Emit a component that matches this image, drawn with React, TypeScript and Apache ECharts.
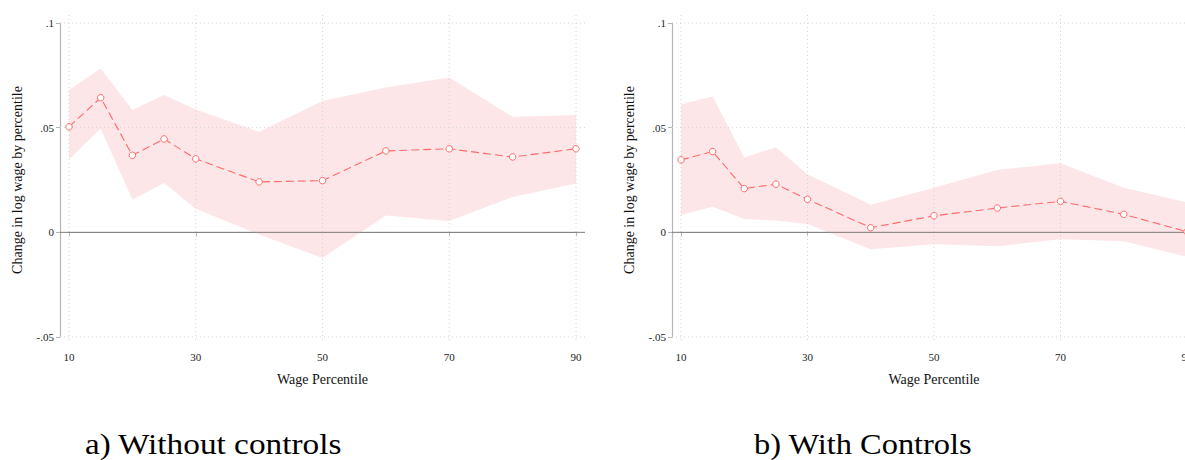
import React, { useEffect, useRef } from "react";
import * as echarts from "echarts";

const percentiles = [10, 15, 20, 25, 30, 40, 50, 60, 70, 80, 90];

const meanA = [0.0504, 0.0643, 0.0368, 0.0446, 0.0351, 0.0241, 0.0247, 0.0389, 0.0399, 0.036, 0.0399];
const upperA = [0.068, 0.0783, 0.0584, 0.0656, 0.0587, 0.048, 0.0627, 0.0692, 0.074, 0.0552, 0.056];
const lowerA = [0.0348, 0.0496, 0.0156, 0.0236, 0.0113, -0.001, -0.0123, 0.0081, 0.0054, 0.0169, 0.0233];

const meanB = [0.0346, 0.0386, 0.0209, 0.023, 0.0158, 0.0022, 0.0079, 0.0116, 0.0148, 0.0086, 0.0003];
const upperB = [0.0612, 0.0649, 0.0357, 0.0407, 0.0278, 0.0132, 0.0213, 0.0298, 0.033, 0.0213, 0.0143];
const lowerB = [0.0083, 0.0122, 0.0064, 0.0056, 0.004, -0.0081, -0.0057, -0.0066, -0.0033, -0.0043, -0.0117];

const xTicks = [10, 30, 50, 70, 90];
const yTicks = [-0.05, 0, 0.05, 0.1];

const captionA = ["a)", "Without controls"];
const captionB = "b) With Controls";
const xTitle = "Wage Percentile";
const yTitle = "Change in log wage by percentile";

const SERIF = "Liberation Serif";
const LINE_RED = "#ff6b6b";
const BAND = "#fde6e8";
const AXIS_GRAY = "#b5b5b5";
const GRID_GRAY = "#d4d4d4";

function fmtY(v: number) {
  const r = Math.round(v * 1000) / 1000;
  if (r === 0) return "0";
  return String(r).replace("0.", ".");
}

function panel(gi: number, mean: number[], lower: number[], upper: number[]) {
  const xAxis = {
    type: "value",
    gridIndex: gi,
    min: 10,
    max: 90,
    interval: 20,
    offset: 8,
    axisLine: { show: true, lineStyle: { color: AXIS_GRAY, width: 1.2 } },
    axisTick: { show: true, length: 4, lineStyle: { color: AXIS_GRAY } },
    axisLabel: { fontFamily: SERIF, fontSize: 11, color: "#222", margin: 6, hideOverlap: false },
    splitLine: { show: false },
    name: xTitle,
    nameLocation: "middle",
    nameGap: 27,
    nameTextStyle: { fontFamily: SERIF, fontSize: 14, color: "#111" },
  };
  const yAxis = {
    type: "value",
    gridIndex: gi,
    min: -0.05,
    max: 0.1,
    interval: 0.05,
    offset: 9,
    axisLine: { show: true, lineStyle: { color: AXIS_GRAY, width: 1.2 } },
    axisTick: { show: true, length: 4, lineStyle: { color: AXIS_GRAY } },
    axisLabel: { fontFamily: SERIF, fontSize: 11, color: "#222", margin: 6, formatter: fmtY },
    splitLine: { show: false },
    name: yTitle,
    nameLocation: "middle",
    nameGap: 36,
    nameRotate: 90,
    nameTextStyle: { fontFamily: SERIF, fontSize: 14, color: "#111" },
  };
  const series: any[] = [
    {
      type: "custom",
      xAxisIndex: gi,
      yAxisIndex: gi,
      clip: false,
      silent: true,
      z: 1,
      data: percentiles.map((x, i) => [x, lower[i], upper[i]]),
      encode: { x: 0, y: [1, 2] },
      renderItem: (params: any, api: any) => {
        if (params.dataIndexInside !== 0) return null;
        const n = params.dataInsideLength;
        const top: number[][] = [];
        const bottom: number[][] = [];
        for (let i = 0; i < n; i++) {
          const x = api.value(0, i);
          top.push(api.coord([x, api.value(2, i)]));
          bottom.unshift(api.coord([x, api.value(1, i)]));
        }
        return {
          type: "polygon",
          shape: { points: top.concat(bottom) },
          style: { fill: BAND, stroke: "none" },
        };
      },
    },
    {
      type: "custom",
      xAxisIndex: gi,
      yAxisIndex: gi,
      clip: false,
      silent: true,
      z: 2,
      data: xTicks.map((x) => [x, 0]),
      encode: { x: 0, y: 1 },
      renderItem: (params: any, api: any) => {
        const x = api.value(0);
        const p1 = api.coord([x, 0.1]);
        const p2 = api.coord([x, -0.05]);
        return {
          type: "line",
          shape: { x1: p1[0], y1: p1[1] - 8, x2: p2[0], y2: p2[1] + 6 },
          style: { stroke: GRID_GRAY, lineWidth: 1, lineDash: [1, 3] },
        };
      },
    },
    {
      type: "custom",
      xAxisIndex: gi,
      yAxisIndex: gi,
      clip: false,
      silent: true,
      z: 2,
      data: yTicks.map((y) => [10, y]),
      encode: { x: 0, y: 1 },
      renderItem: (params: any, api: any) => {
        const y = api.value(1);
        const p1 = api.coord([10, y]);
        const p2 = api.coord([90, y]);
        const zero = Math.abs(y) < 1e-9;
        return {
          type: "line",
          shape: { x1: p1[0] - 9, y1: p1[1], x2: p2[0] + 9, y2: p2[1] },
          style: zero
            ? { stroke: "#7a7a7a", lineWidth: 1 }
            : { stroke: GRID_GRAY, lineWidth: 1, lineDash: [1, 3] },
        };
      },
    },
    {
      type: "line",
      xAxisIndex: gi,
      yAxisIndex: gi,
      data: percentiles.map((x, i) => [x, mean[i]]),
      symbol: "circle",
      symbolSize: 6.5,
      showSymbol: true,
      itemStyle: { color: "#fff", borderColor: LINE_RED, borderWidth: 1 },
      lineStyle: { color: LINE_RED, width: 1.1, type: [8, 4] },
      clip: false,
      z: 3,
    },
  ];
  return { xAxis, yAxis, series };
}

export default function App() {
  const ref = useRef<HTMLDivElement>(null);
  useEffect(() => {
    if (!ref.current) return;
    const chart = echarts.init(ref.current, undefined, { renderer: "svg" });
    const a = panel(0, meanA, lowerA, upperA);
    const b = panel(1, meanB, lowerB, upperB);
    const capStyle = { fontFamily: SERIF, fontSize: 30, fill: "#000", verticalAlign: "bottom" };
    chart.setOption({
      animation: false,
      backgroundColor: "#fff",
      grid: [
        { left: 69, top: 23, width: 507, height: 314, outerBoundsMode: "none", containLabel: false },
        { left: 681, top: 23, width: 506, height: 314, outerBoundsMode: "none", containLabel: false },
      ],
      xAxis: [a.xAxis, b.xAxis],
      yAxis: [a.yAxis, b.yAxis],
      series: [...a.series, ...b.series],
      graphic: [
        { type: "text", x: 85, y: 459, scaleX: 1.1, style: { ...capStyle, text: captionA[0] } },
        { type: "text", x: 118, y: 459, scaleX: 1.11, style: { ...capStyle, text: captionA[1] } },
        { type: "text", x: 754, y: 459, scaleX: 1.08, style: { ...capStyle, text: captionB } },
      ],
    });
    return () => chart.dispose();
  }, []);
  return (
    <div
      ref={ref}
      style={{ position: "absolute", left: 0, top: 0, width: 1185, height: 460, background: "#fff" }}
    />
  );
}
